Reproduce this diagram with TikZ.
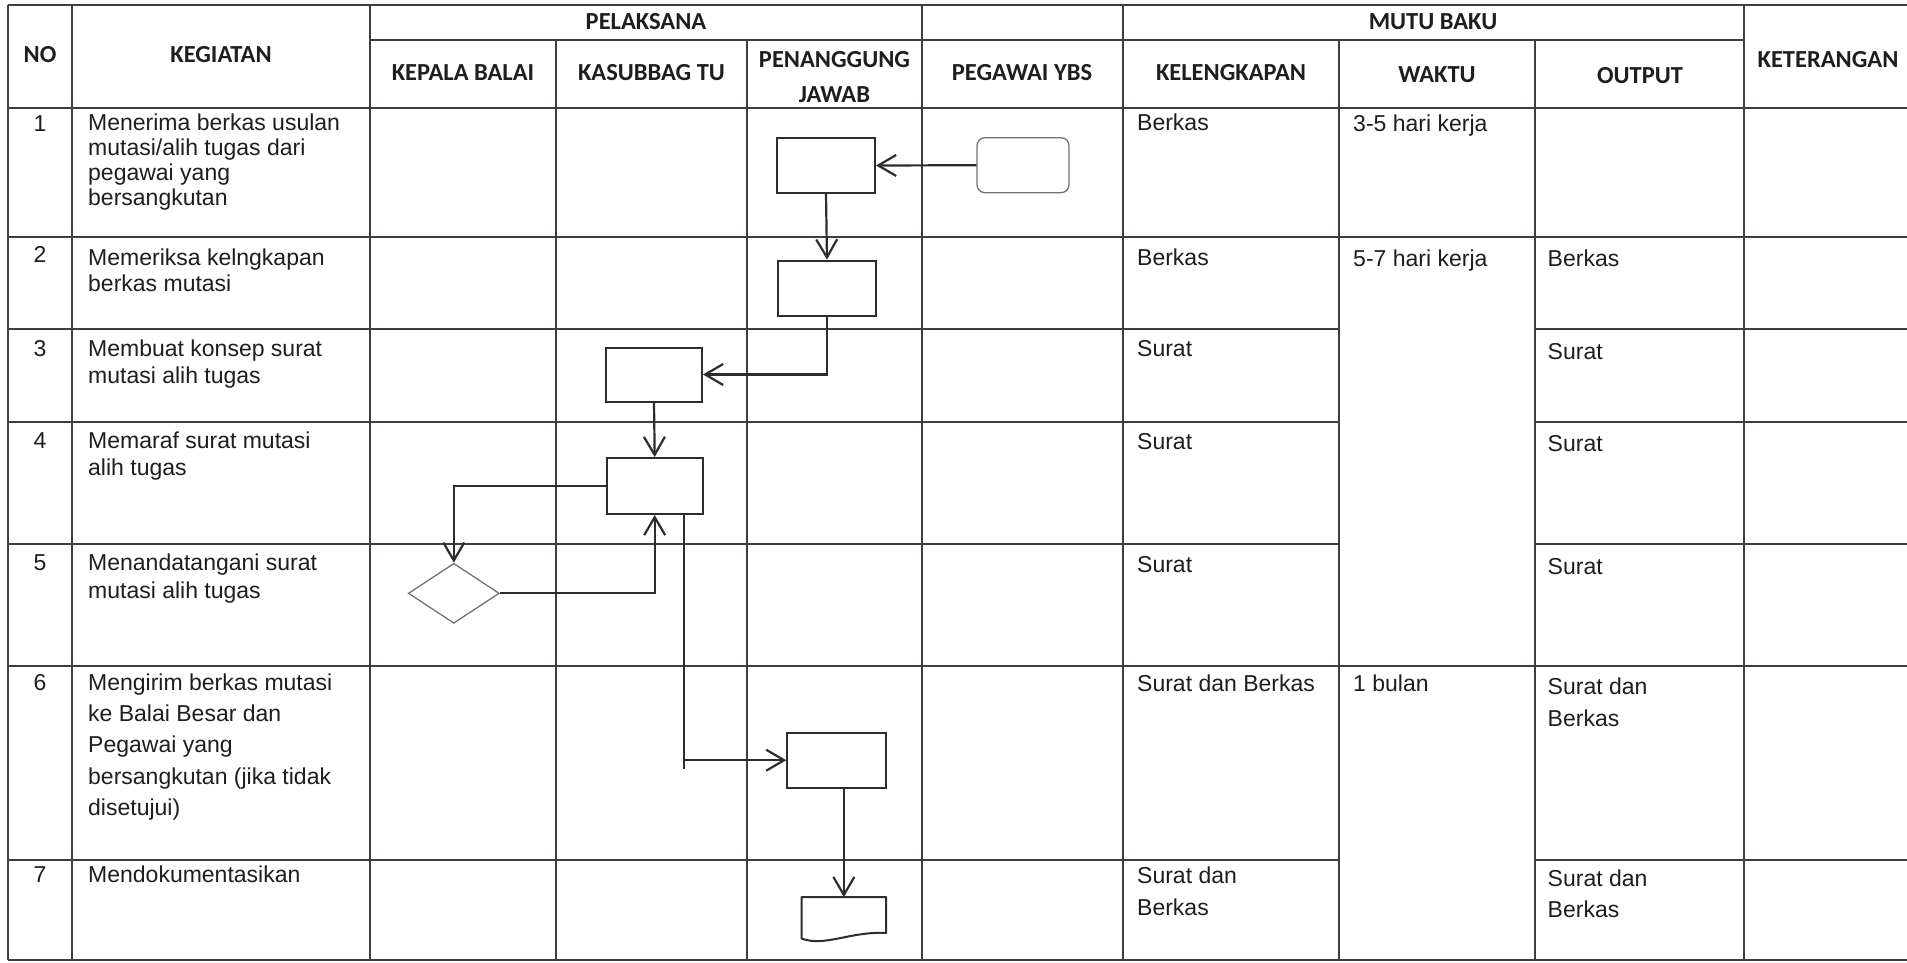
\documentclass[tikz,border=0pt]{standalone}
\usepackage{fontspec}
\setmainfont{Liberation Sans}
\newfontfamily\hfont{Carlito}
\usetikzlibrary{arrows.meta,shapes.geometric}
\definecolor{tblc}{RGB}{60,62,70}
\definecolor{boxc}{RGB}{45,45,45}
\definecolor{txtc}{RGB}{30,30,30}
\definecolor{lightc}{RGB}{115,115,115}
\newcommand\mlines[1]{\begin{tabular}[t]{@{}l@{}}#1\end{tabular}}
\begin{document}
\begin{tikzpicture}[x=1pt,y=-1pt,
  tbl/.style={draw=tblc,line width=1.4pt},
  txt/.style={anchor=base west,inner sep=0pt,text=txtc,font=\fontsize{23}{#1}\selectfont},
  txt/.default=26.5,
  num/.style={anchor=base,inner sep=0pt,text=txtc,font=\fontsize{23}{26}\selectfont},
  hd/.style={inner sep=0pt,align=center,text=txtc,font=\hfont\bfseries\fontsize{24.5}{35}\selectfont},
  box/.style={draw=boxc,line width=2pt,rectangle,inner sep=0pt,minimum width=98pt,minimum height=55pt},
  conn/.style={draw=boxc,line width=2.2pt},
  >={Straight Barb[length=18pt,width=21pt]}]
\useasboundingbox[fill=white] (0,0) rectangle (1907,962);

% ---------- table grid ----------
\draw[tbl] (8,5) -- (1907,5);
\draw[tbl] (370,40) -- (1744,40);
\draw[tbl] (8,108) -- (1907,108);
\draw[tbl] (8,237) -- (1907,237);
\draw[tbl] (8,666) -- (1907,666);
\draw[tbl] (8,960) -- (1907,960);
\foreach \yy in {329,422,544,860}
  \draw[tbl] (8,\yy) -- (1339,\yy) (1535,\yy) -- (1907,\yy);
\foreach \xx in {8,72,370,922,1123,1744}
  \draw[tbl] (\xx,5) -- (\xx,960);
\foreach \xx in {556,747,1339,1535}
  \draw[tbl] (\xx,40) -- (\xx,960);

% ---------- headers ----------
\node[hd] (hNO)   at (40,55)    {NO};
\node[hd] (hKeg)  at (221,55)   {KEGIATAN};
\node[hd] (hPel)  at (646,22)   {PELAKSANA};
\node[hd] (hMutu) at (1433,22)  {MUTU BAKU};
\node[hd] (hKB)   at (463,73)   {KEPALA BALAI};
\node[hd] (hKT)   at (651.5,73) {KASUBBAG TU};
\node[hd] (hPJ)   at (834.5,77) {PENANGGUNG\\JAWAB};
\node[hd] (hPY)   at (1022,73)  {PEGAWAI YBS};
\node[hd] (hKL)   at (1231,73)  {KELENGKAPAN};
\node[hd] (hWk)   at (1437,75)  {WAKTU};
\node[hd] (hOut)  at (1640,76)  {OUTPUT};
\node[hd] (hKet)  at (1828,60)  {KETERANGAN};

% ---------- NO column ----------
\node[num] (n1) at (40,131) {1};
\node[num] (n2) at (40,262) {2};
\node[num] (n3) at (40,356) {3};
\node[num] (n4) at (40,448) {4};
\node[num] (n5) at (40,570) {5};
\node[num] (n6) at (40,690) {6};
\node[num] (n7) at (40,882) {7};

% ---------- KEGIATAN column ----------
\node[txt=25.3] (k1) at (88,130) {\mlines{Menerima berkas usulan\\mutasi/alih tugas dari\\pegawai yang\\bersangkutan}};
\node[txt=26.6] (k2) at (88,265) {\mlines{Memeriksa kelngkapan\\berkas mutasi}};
\node[txt=26.6] (k3) at (88,356.7) {\mlines{Membuat konsep surat\\mutasi alih tugas}};
\node[txt=27.5] (k4) at (88,448) {\mlines{Memaraf surat mutasi\\alih tugas}};
\node[txt=27.6] (k5) at (88,570.4) {\mlines{Menandatangani surat\\mutasi alih tugas}};
\node[txt=31.4] (k6) at (88,690) {\mlines{Mengirim berkas mutasi\\ke Balai Besar dan\\Pegawai yang\\bersangkutan (jika tidak\\disetujui)}};
\node[txt] (k7) at (88,882) {Mendokumentasikan};

% ---------- KELENGKAPAN ----------
\node[txt] (l1) at (1137,130) {Berkas};
\node[txt] (l2) at (1137,265) {Berkas};
\node[txt] (l3) at (1137,356.7) {Surat};
\node[txt] (l4) at (1137,449.4) {Surat};
\node[txt] (l5) at (1137,572) {Surat};
\node[txt] (l6) at (1137,691) {Surat dan Berkas};
\node[txt=32] (l7) at (1137,883) {\mlines{Surat dan\\Berkas}};

% ---------- WAKTU ----------
\node[txt] (w1) at (1353,131) {3-5 hari kerja};
\node[txt] (w2) at (1353,266) {5-7 hari kerja};
\node[txt] (w6) at (1353,691) {1 bulan};

% ---------- OUTPUT ----------
\node[txt] (o2) at (1547.5,266.7) {Berkas};
\node[txt] (o3) at (1547.5,359) {Surat};
\node[txt] (o4) at (1547.5,451.8) {Surat};
\node[txt] (o5) at (1547.5,574.5) {Surat};
\node[txt=31.2] (o6) at (1547.5,694.8) {\mlines{Surat dan\\Berkas}};
\node[txt=31.2] (o7) at (1547.5,886.6) {\mlines{Surat dan\\Berkas}};

% ---------- flow shapes ----------
\node[draw=lightc,line width=1.3pt,rounded corners=8pt,rectangle,inner sep=0pt,
      minimum width=92pt,minimum height=55pt] (R) at (1023,165.2) {};
\node[box] (A) at (826,165.5) {};
\node[box] (B) at (827,288) {};
\node[box,minimum width=96pt,minimum height=54pt] (C) at (654,374.5) {};
\node[box,minimum width=96pt,minimum height=56pt] (D) at (654.7,486) {};
\node[diamond,draw=lightc,line width=1.3pt,inner sep=0pt,
      minimum width=91pt,minimum height=60pt] (Dm) at (453.8,593.3) {};
\node[box,minimum width=98.7pt] (E) at (836.7,760.2) {};
\node[rectangle,inner sep=0pt,minimum width=84.3pt,minimum height=41pt] (Doc) at (843.85,917.8) {};
\draw[draw=boxc,line width=2pt,line join=round]
  (Doc.north west) -- (Doc.north east) -- ([shift={(0,-5.6)}]Doc.south east)
  .. controls ([shift={(-36,-7.3)}]Doc.south east) and ([shift={(23,8.7)}]Doc.south west) ..
  (Doc.south west) -- cycle;

% ---------- connectors ----------
\draw[conn,->] (R.west) -- (A.east);
\draw[conn,->] (A.south) -- (B.north);
\draw[conn,->] (B.south) |- (C.east);
\draw[conn,->] (C.south) -- (D.north);
\draw[conn,->] (D.west) -| (Dm.north);
\draw[conn,->] (Dm.east) -| (D.south);
\coordinate (t1) at ([xshift=-19.4pt]D.south east);
\coordinate (t2) at (t1 |- E.west);
\coordinate (t3) at ([yshift=-9pt]t2);
\draw[conn] (t1) -- (t3);
\draw[conn,->] (t2) -- (E.west);
\draw[conn,->] (E.south -| Doc.north) -- (Doc.north);
\end{tikzpicture}
\end{document}
